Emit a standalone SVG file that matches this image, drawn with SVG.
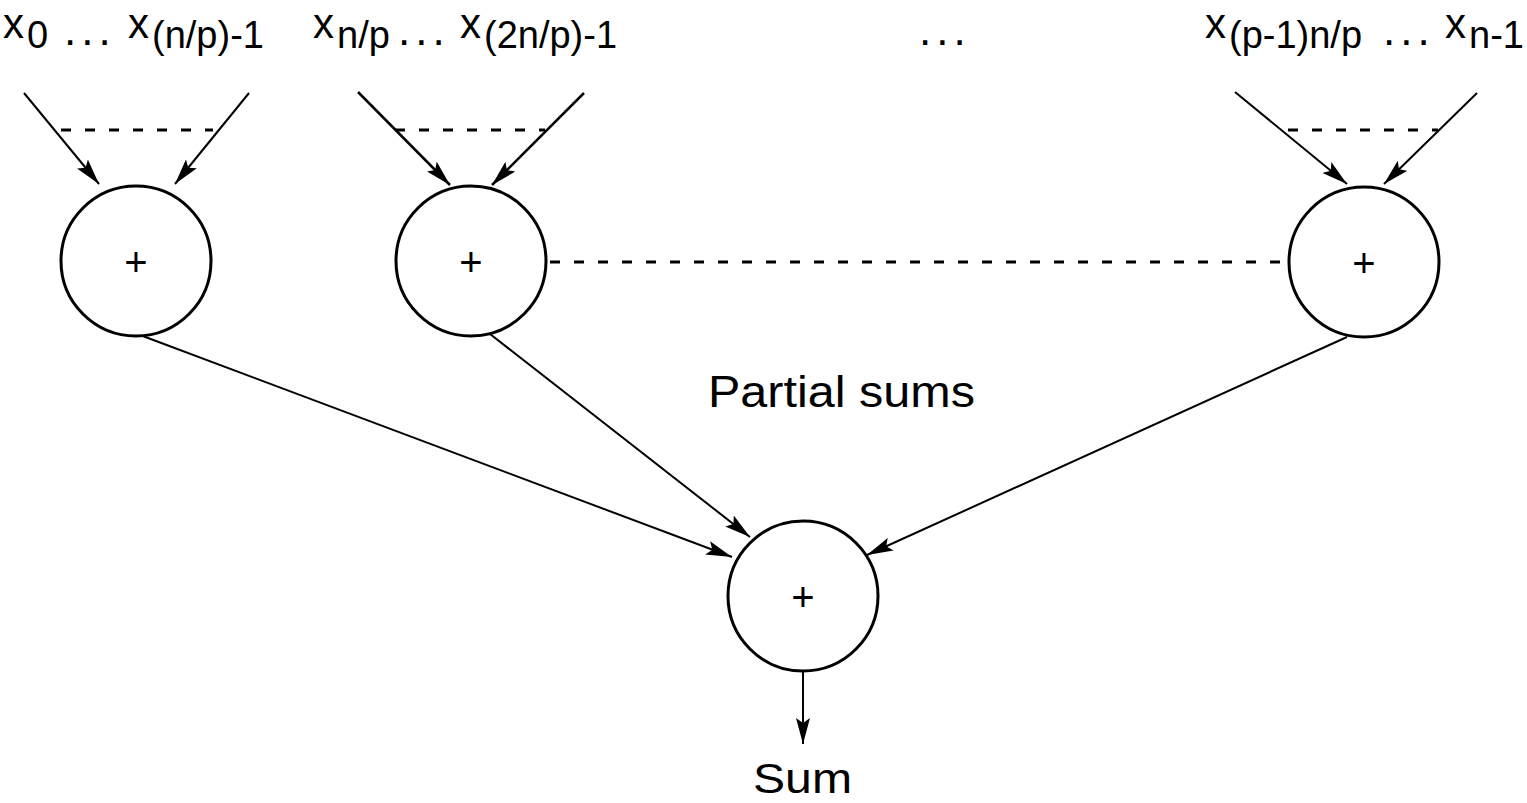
<svg xmlns="http://www.w3.org/2000/svg" width="1527" height="803" viewBox="0 0 1527 803">
<style>
text{font-family:"Liberation Sans",Arial,sans-serif;fill:#000}
.big{font-size:42px}
.sub{font-size:38px}
.dots{font-size:44px;letter-spacing:5px}
.lbl{font-size:44px}
.lbl2{font-size:42px}
.plus{font-size:40px;text-anchor:middle}
.node{fill:#fff;stroke:#000;stroke-width:3}
.arr{stroke:#000;stroke-width:2;fill:none;marker-end:url(#ah)}
.arr3{stroke:#000;stroke-width:2.5;fill:none;marker-end:url(#ah)}
.dash{stroke:#000;stroke-width:3;stroke-dasharray:10 14;fill:none}
</style>
<defs>
<marker id="ah" markerUnits="userSpaceOnUse" markerWidth="26" markerHeight="14" refX="26" refY="7" orient="auto">
<path d="M0,0 L26,7 L0,14 L5,7 z" fill="#000"/>
</marker>
</defs>
<rect width="1527" height="803" fill="#fff"/>
<g id="labels">
<text id="in1"><tspan class="big" x="3" y="38">x</tspan><tspan class="sub" x="27" y="48">0</tspan><tspan class="dots" x="64" y="45">...</tspan><tspan class="big" x="128" y="38">x</tspan><tspan class="sub" x="152" y="48">(n/p)-1</tspan></text>
<text id="in2"><tspan class="big" x="313" y="38">x</tspan><tspan class="sub" x="337" y="48">n/p</tspan><tspan class="dots" x="398" y="45">...</tspan><tspan class="big" x="460" y="38">x</tspan><tspan class="sub" x="484" y="48">(2n/p)-1</tspan></text>
<text id="mid" class="dots" x="919" y="45">...</text>
<text id="in3"><tspan class="big" x="1205" y="38">x</tspan><tspan class="sub" x="1229" y="48">(p-1)n/p</tspan><tspan class="dots" x="1383" y="45">...</tspan><tspan class="big" x="1445" y="38">x</tspan><tspan class="sub" x="1469" y="48">n-1</tspan></text>
</g>
<g id="connectors">
<line class="arr" x1="24" y1="93" x2="99" y2="184"/>
<line class="arr" x1="249" y1="93" x2="175" y2="184"/>
<line class="arr3" x1="358" y1="92" x2="450" y2="185"/>
<line class="arr3" x1="584" y1="93" x2="492" y2="185"/>
<line class="arr" x1="1235" y1="92" x2="1347" y2="184"/>
<line class="arr" x1="1477" y1="93" x2="1384" y2="184"/>
<line class="dash" x1="61" y1="130" x2="213" y2="130"/>
<line class="dash" x1="395" y1="130" x2="545" y2="130"/>
<line class="dash" x1="1288" y1="130" x2="1438" y2="130"/>
<line class="dash" x1="550" y1="262" x2="1288" y2="262"/>
<line class="arr" x1="140" y1="335" x2="732" y2="557"/>
<line class="arr" x1="490" y1="334" x2="750" y2="537"/>
<line class="arr" x1="1347" y1="337" x2="867" y2="555"/>
<line class="arr" x1="803" y1="671" x2="803" y2="744"/>
</g>
<g id="p1"><circle class="node" cx="136" cy="261" r="75"/><text class="plus" x="136" y="276">+</text></g>
<g id="p2"><circle class="node" cx="471" cy="261" r="75"/><text class="plus" x="471" y="276">+</text></g>
<g id="p3"><circle class="node" cx="1364" cy="262" r="75"/><text class="plus" x="1364" y="277">+</text></g>
<g id="sum"><circle class="node" cx="803" cy="596" r="75"/><text class="plus" x="803" y="611">+</text></g>
<text id="partial" class="lbl" x="708" y="407" textLength="267" lengthAdjust="spacingAndGlyphs">Partial sums</text>
<text id="sumlbl" class="lbl2" x="753" y="793" textLength="99" lengthAdjust="spacingAndGlyphs">Sum</text>
</svg>
